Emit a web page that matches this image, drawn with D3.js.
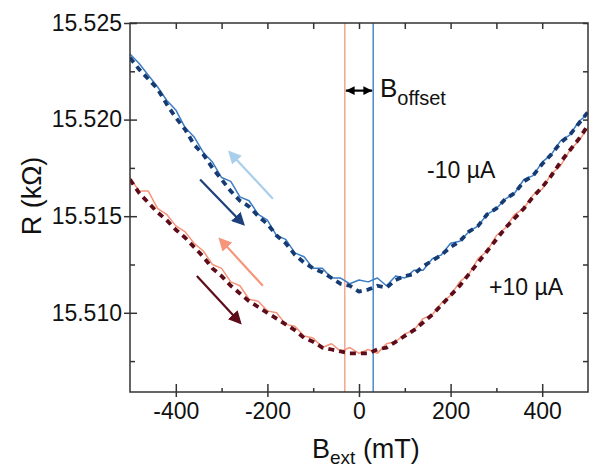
<!DOCTYPE html>
<html>
<head>
<meta charset="utf-8">
<script src="https://cdn.jsdelivr.net/npm/d3@7"></script>
<style>
  body { margin: 0; background: #fff; }
  text { font-family: "Liberation Sans", Arial, sans-serif; fill: #111; }
</style>
</head>
<body>
<div id="chart"></div>
<script>
// field values (mT), one sample every 20 mT
var fields = d3.range(-500, 501, 20);

// -10 uA, solid (sweep up) and dashed (sweep down)
var blueSolid = [15.5234, 15.5229, 15.5223, 15.5217, 15.5210, 15.5205, 15.5196, 15.5191, 15.5183, 15.5178,
  15.5170, 15.5168, 15.5160, 15.5158, 15.5151, 15.5148, 15.5140, 15.5138, 15.5131, 15.5129,
  15.5123, 15.5123, 15.5118, 15.5118, 15.5115, 15.5117, 15.5116, 15.5118, 15.5114, 15.5119,
  15.5118, 15.5122, 15.5122, 15.5128, 15.5130, 15.5136, 15.5137, 15.5142, 15.5145, 15.5151,
  15.5154, 15.5159, 15.5162, 15.5169, 15.5171, 15.5178, 15.5182, 15.5189, 15.5192, 15.5199, 15.5203];
var blueDashed = [15.5232, 15.5226, 15.5221, 15.5216, 15.5208, 15.5201, 15.5195, 15.5187, 15.5182, 15.5175,
  15.5169, 15.5163, 15.5158, 15.5155, 15.5150, 15.5146, 15.5140, 15.5136, 15.5130, 15.5126,
  15.5123, 15.5121, 15.5118, 15.5115, 15.5114, 15.5111, 15.5112, 15.5114, 15.5113, 15.5117,
  15.5119, 15.5120, 15.5124, 15.5127, 15.5130, 15.5134, 15.5137, 15.5142, 15.5145, 15.5151,
  15.5154, 15.5159, 15.5162, 15.5168, 15.5171, 15.5177, 15.5182, 15.5188, 15.5192, 15.5198, 15.5204];

// +10 uA
var redSolid = [15.5170, 15.5163, 15.5163, 15.5154, 15.5151, 15.5145, 15.5142, 15.5136, 15.5132, 15.5125,
  15.5123, 15.5116, 15.5114, 15.5107, 15.5106, 15.5101, 15.5100, 15.5094, 15.5093, 15.5088,
  15.5087, 15.5082, 15.5084, 15.5080, 15.5082, 15.5079, 15.5081, 15.5079, 15.5084, 15.5085,
  15.5089, 15.5091, 15.5097, 15.5099, 15.5105, 15.5109, 15.5116, 15.5120, 15.5128, 15.5132,
  15.5140, 15.5144, 15.5151, 15.5154, 15.5161, 15.5164, 15.5172, 15.5176, 15.5184, 15.5189, 15.5196];
var redDashed = [15.5169, 15.5162, 15.5157, 15.5152, 15.5148, 15.5143, 15.5139, 15.5134, 15.5129, 15.5123,
  15.5119, 15.5114, 15.5110, 15.5106, 15.5103, 15.5100, 15.5097, 15.5094, 15.5091, 15.5087,
  15.5085, 15.5082, 15.5081, 15.5080, 15.5079, 15.5079, 15.5079, 15.5081, 15.5082, 15.5085,
  15.5088, 15.5091, 15.5095, 15.5099, 15.5104, 15.5109, 15.5114, 15.5120, 15.5126, 15.5132,
  15.5138, 15.5144, 15.5149, 15.5154, 15.5160, 15.5165, 15.5171, 15.5178, 15.5184, 15.5190, 15.5197];

// the two minimum positions (mT)
var offsetLines = [-31, 31];

// sweep arrows, from / to in data units
var arrows = [
  { from: [-188, 15.5159], to: [-282, 15.5183], color: "#a9cfea" },
  { from: [-347, 15.5169], to: [-253, 15.5146], color: "#1d3f7b" },
  { from: [-210, 15.5114], to: [-303, 15.5138], color: "#f7957a" },
  { from: [-354, 15.5119], to: [-260, 15.5095], color: "#5e0c1a" }
];

var xMajor = [-400, -200, 0, 200, 400];
var xMinor = [-300, -100, 100, 300];
var yMajor = [15.510, 15.515, 15.520, 15.525];
var yMinor = [15.5075, 15.5125, 15.5175, 15.5225];

var width = 590, height = 468;
var margin = { top: 23, right: 2, bottom: 76, left: 130 };

var svg = d3.select("#chart").append("svg")
  .attr("width", width)
  .attr("height", height);

var x = d3.scaleLinear().domain([-500, 500]).range([margin.left, width - margin.right]);
var y = d3.scaleLinear().domain([15.5059, 15.525]).range([height - margin.bottom, margin.top]);

var plotLeft = x(-500), plotRight = x(500), plotTop = y(15.525), plotBottom = y(15.5059);

var defs = svg.append("defs");
defs.append("clipPath").attr("id", "plot")
  .append("rect")
  .attr("x", plotLeft).attr("y", plotTop)
  .attr("width", plotRight - plotLeft).attr("height", plotBottom - plotTop);

defs.selectAll(".head")
  .data(arrows)
  .enter().append("marker")
  .attr("id", function (d, i) { return "head" + i; })
  .attr("viewBox", "0 0 10 10")
  .attr("refX", 8).attr("refY", 5)
  .attr("markerWidth", 6).attr("markerHeight", 6)
  .attr("markerUnits", "strokeWidth")
  .attr("orient", "auto")
  .append("path")
  .attr("d", "M0,0L10,5L0,10z")
  .attr("fill", function (d) { return d.color; });

var plot = svg.append("g").attr("clip-path", "url(#plot)");

// vertical offset lines
plot.selectAll(".vline")
  .data(offsetLines)
  .enter().append("line")
  .attr("x1", function (d) { return x(d); })
  .attr("x2", function (d) { return x(d); })
  .attr("y1", plotTop).attr("y2", plotBottom)
  .attr("stroke", function (d, i) { return i == 0 ? "#f3a08a" : "#3f80c6"; })
  .attr("stroke-width", 1.4);

var line = d3.line()
  .x(function (d) { return x(d[0]); })
  .y(function (d) { return y(d[1]); });

function pairs(vals) {
  return vals.map(function (v, i) { return [fields[i], v]; });
}

var series = [
  { vals: redSolid, color: "#f7957a", w: 1.5, dash: null },
  { vals: redDashed, color: "#5e0c1a", w: 3.8, dash: "6,5" },
  { vals: blueSolid, color: "#3b7dc4", w: 1.5, dash: null },
  { vals: blueDashed, color: "#163a72", w: 3.8, dash: "6,5" }
];

plot.selectAll(".curve")
  .data(series)
  .enter().append("path")
  .attr("d", function (d) { return line(pairs(d.vals)); })
  .attr("fill", "none")
  .attr("stroke", function (d) { return d.color; })
  .attr("stroke-width", function (d) { return d.w; })
  .attr("stroke-dasharray", function (d) { return d.dash; })
  .attr("stroke-linejoin", "round");

// sweep direction arrows
svg.selectAll(".arrow")
  .data(arrows)
  .enter().append("line")
  .attr("x1", function (d) { return x(d.from[0]); })
  .attr("y1", function (d) { return y(d.from[1]); })
  .attr("x2", function (d) { return x(d.to[0]); })
  .attr("y2", function (d) { return y(d.to[1]); })
  .attr("stroke", function (d) { return d.color; })
  .attr("stroke-width", 2.2)
  .attr("marker-end", function (d, i) { return "url(#head" + i + ")"; });

// axes
var axisColor = "#333";
function styleAxis(g) {
  g.select(".domain").remove();
  g.selectAll("line").attr("stroke", axisColor).attr("stroke-width", 1.5);
  g.selectAll("text").attr("font-size", "23px").attr("fill", "#111")
    .style("font-family", "'Liberation Sans', Arial, sans-serif");
}

svg.append("g").attr("transform", "translate(0," + plotBottom + ")")
  .call(d3.axisBottom(x).tickValues(xMajor).tickSize(5).tickPadding(6).tickFormat(function (d) { return String(d); }))
  .call(styleAxis);
svg.append("g").attr("transform", "translate(0," + plotBottom + ")")
  .call(d3.axisTop(x).tickValues(xMajor).tickSize(8).tickFormat(""))
  .call(styleAxis);
svg.append("g").attr("transform", "translate(0," + plotBottom + ")")
  .call(d3.axisTop(x).tickValues(xMinor).tickSize(4).tickFormat(""))
  .call(styleAxis);
svg.append("g").attr("transform", "translate(0," + plotTop + ")")
  .call(d3.axisBottom(x).tickValues(xMajor.concat(xMinor)).tickSize(6).tickFormat(""))
  .call(styleAxis);

svg.append("g").attr("transform", "translate(" + plotLeft + ",0)")
  .call(d3.axisLeft(y).tickValues(yMajor).tickSize(6).tickPadding(2).tickFormat(d3.format(".3f")))
  .call(styleAxis);
svg.append("g").attr("transform", "translate(" + plotLeft + ",0)")
  .call(d3.axisRight(y).tickValues(yMajor).tickSize(7).tickFormat(""))
  .call(styleAxis);
svg.append("g").attr("transform", "translate(" + plotLeft + ",0)")
  .call(d3.axisRight(y).tickValues(yMinor).tickSize(5).tickFormat(""))
  .call(styleAxis);
svg.append("g").attr("transform", "translate(" + plotRight + ",0)")
  .call(d3.axisLeft(y).tickValues(yMajor.concat(yMinor)).tickSize(5).tickFormat(""))
  .call(styleAxis);

svg.append("rect")
  .attr("x", plotLeft).attr("y", plotTop)
  .attr("width", plotRight - plotLeft).attr("height", plotBottom - plotTop)
  .attr("fill", "none").attr("stroke", axisColor).attr("stroke-width", 1.5);

// axis titles
svg.append("text")
  .attr("transform", "translate(41,196) rotate(-90)")
  .attr("text-anchor", "middle")
  .attr("font-size", "27px")
  .text("R (k\u03A9)");

var xt = svg.append("text")
  .attr("x", 312).attr("y", 458)
  .attr("font-size", "27px");
xt.append("tspan").text("B");
xt.append("tspan").attr("font-size", "19px").attr("dy", 6).text("ext");
xt.append("tspan").attr("dy", -6).text(" (mT)");

// B offset annotation
defs.append("marker")
  .attr("id", "dbl")
  .attr("viewBox", "0 0 10 10")
  .attr("refX", 10).attr("refY", 5)
  .attr("markerWidth", 4).attr("markerHeight", 4)
  .attr("markerUnits", "strokeWidth")
  .attr("orient", "auto-start-reverse")
  .append("path").attr("d", "M0,0L10,5L0,10z").attr("fill", "#000");

svg.append("line")
  .attr("x1", x(offsetLines[0]) + 1).attr("x2", x(offsetLines[1]) - 1)
  .attr("y1", y(15.5215)).attr("y2", y(15.5215))
  .attr("stroke", "#000").attr("stroke-width", 2.2)
  .attr("marker-start", "url(#dbl)")
  .attr("marker-end", "url(#dbl)");

var bo = svg.append("text").attr("x", 380).attr("y", 97).attr("font-size", "26px");
bo.append("tspan").text("B");
bo.append("tspan").attr("font-size", "20px").attr("dy", 8).text("offset");

svg.append("text").attr("x", 427).attr("y", 178).attr("font-size", "23px").text("-10 \u00B5A");
svg.append("text").attr("x", 489).attr("y", 295).attr("font-size", "23px").text("+10 \u00B5A");
</script>
</body>
</html>
